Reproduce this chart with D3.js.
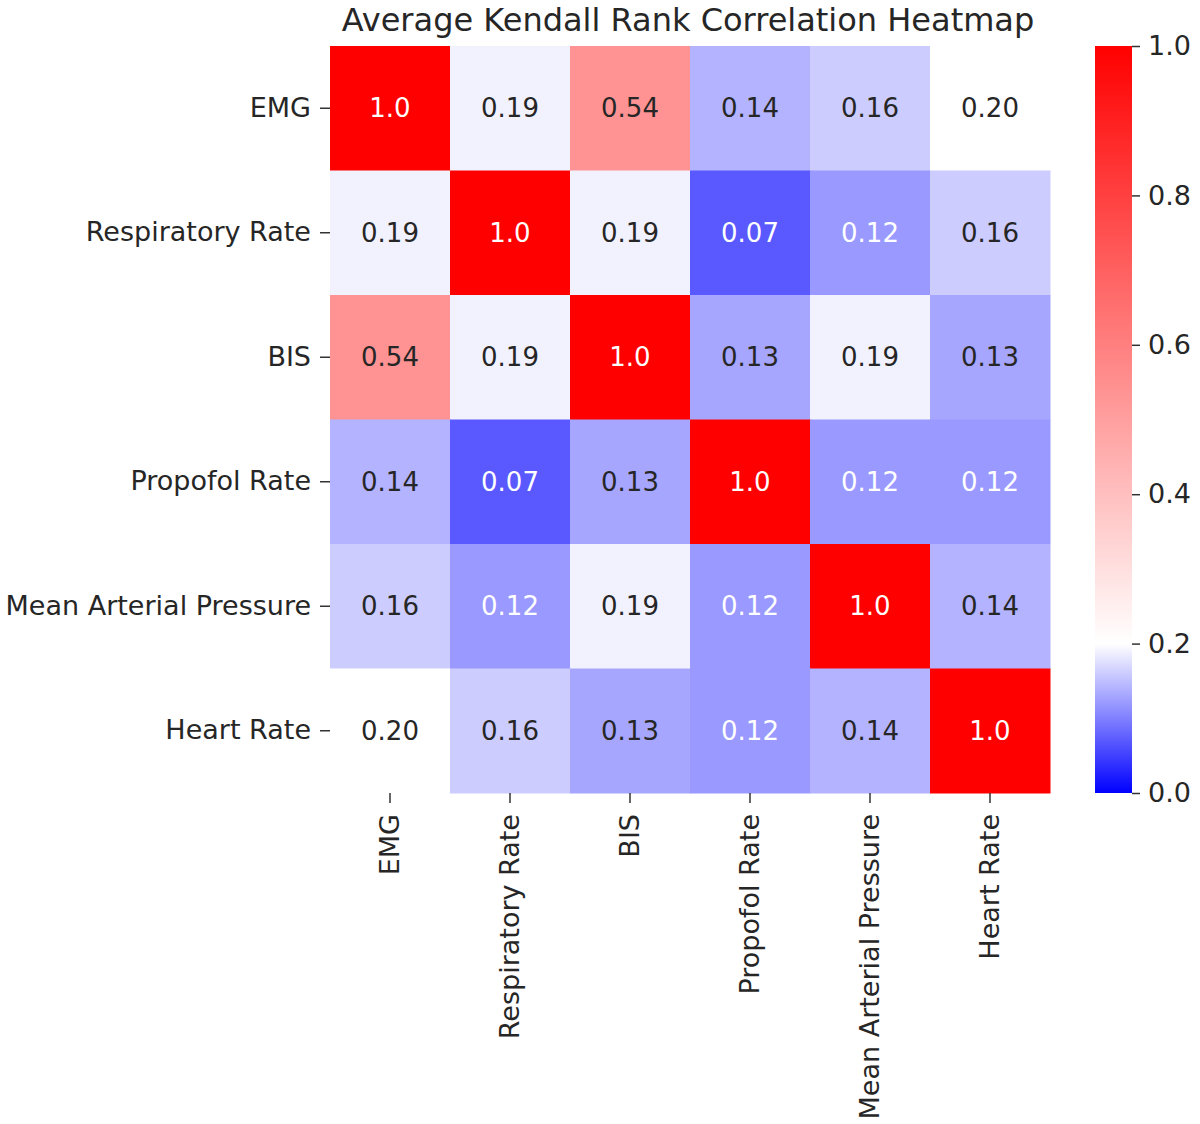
<!DOCTYPE html>
<html>
<head>
<meta charset="utf-8">
<script src="https://cdn.jsdelivr.net/npm/d3@7"></script>
<style>
  body { margin: 0; background: #fff; }
  text { font-family: "DejaVu Sans", sans-serif; }
</style>
</head>
<body>
<div id="chart"></div>
<script>
// Chart data
let title = "Average Kendall Rank Correlation Heatmap";
let variables = ["EMG", "Respiratory Rate", "BIS", "Propofol Rate", "Mean Arterial Pressure", "Heart Rate"];
let rowEMG = [1.0, 0.19, 0.54, 0.14, 0.16, 0.20];
let rowResp = [0.19, 1.0, 0.19, 0.07, 0.12, 0.16];
let rowBIS = [0.54, 0.19, 1.0, 0.13, 0.19, 0.13];
let rowPropofol = [0.14, 0.07, 0.13, 1.0, 0.12, 0.12];
let rowMAP = [0.16, 0.12, 0.19, 0.12, 1.0, 0.14];
let rowHR = [0.20, 0.16, 0.13, 0.12, 0.14, 1.0];
let labelsText = [["1.0", "0.19", "0.54", "0.14", "0.16", "0.20"],
                  ["0.19", "1.0", "0.19", "0.07", "0.12", "0.16"],
                  ["0.54", "0.19", "1.0", "0.13", "0.19", "0.13"],
                  ["0.14", "0.07", "0.13", "1.0", "0.12", "0.12"],
                  ["0.16", "0.12", "0.19", "0.12", "1.0", "0.14"],
                  ["0.20", "0.16", "0.13", "0.12", "0.14", "1.0"]];
let colorbarTicks = [0.0, 0.2, 0.4, 0.6, 0.8, 1.0];

let matrix = [rowEMG, rowResp, rowBIS, rowPropofol, rowMAP, rowHR];

// Define SVG dimensions
let svgWidth = 1200;
let svgHeight = 1124;
let heat = { left: 330, top: 46, width: 720, height: 747 };
let bar = { left: 1095, width: 37 };

let svg = d3.select("#chart")
            .append("svg")
            .attr("width", svgWidth)
            .attr("height", svgHeight);

// scales
let xScale = d3.scaleBand().domain(variables).range([heat.left, heat.left + heat.width]);
let yScale = d3.scaleBand().domain(variables).range([heat.top, heat.top + heat.height]);

// bwr colormap with a two-slope norm centred on 0.2
let colorScale = d3.scaleLinear()
    .domain([0, 0.2, 1])
    .range(["#0000ff", "#ffffff", "#ff0000"])
    .clamp(true);

function luminance(c) {
    let rgb = d3.rgb(c);
    let lin = [rgb.r, rgb.g, rgb.b].map(v => {
        v = v / 255;
        return v <= 0.03928 ? v / 12.92 : Math.pow((v + 0.055) / 1.055, 2.4);
    });
    return 0.2126 * lin[0] + 0.7152 * lin[1] + 0.0722 * lin[2];
}

// cells
let cells = [];
matrix.forEach((row, i) => row.forEach((v, j) => {
    cells.push({ row: variables[i], col: variables[j], value: v, label: labelsText[i][j] });
}));

svg.append("g").selectAll("rect")
    .data(cells)
    .enter()
    .append("rect")
    .attr("x", d => xScale(d.col))
    .attr("y", d => yScale(d.row))
    .attr("width", xScale.bandwidth() + 0.5)
    .attr("height", yScale.bandwidth() + 0.5)
    .attr("fill", d => colorScale(d.value));

svg.append("g").selectAll("text")
    .data(cells)
    .enter()
    .append("text")
    .attr("x", d => xScale(d.col) + xScale.bandwidth() / 2)
    .attr("y", d => yScale(d.row) + yScale.bandwidth() / 2)
    .attr("text-anchor", "middle")
    .attr("dominant-baseline", "central")
    .style("font-size", "26px")
    .attr("fill", d => luminance(colorScale(d.value)) > 0.408 ? "#262626" : "#ffffff")
    .text(d => d.label);

// axes
let leftAxis = d3.axisLeft(yScale).tickSize(10).tickPadding(9);
let yAxisG = svg.append("g")
    .attr("transform", `translate(${heat.left}, 0)`)
    .call(leftAxis);
yAxisG.select(".domain").remove();
yAxisG.selectAll("text").style("font-size", "27px").attr("fill", "#262626");
yAxisG.selectAll("line").attr("stroke", "#333").attr("stroke-width", 1.5);

let bottomAxis = d3.axisBottom(xScale).tickSize(10).tickPadding(8);
let xAxisG = svg.append("g")
    .attr("transform", `translate(0, ${heat.top + heat.height})`)
    .call(bottomAxis);
xAxisG.select(".domain").remove();
xAxisG.selectAll("line").attr("stroke", "#333").attr("stroke-width", 1.5);
xAxisG.selectAll("text")
    .style("font-size", "27px")
    .attr("fill", "#262626")
    .attr("transform", "rotate(-90)")
    .attr("text-anchor", "end")
    .attr("dy", "0.35em")
    .attr("x", -21)
    .attr("y", 0);

// title
svg.append("text")
    .attr("x", heat.left + heat.width / 2 - 2)
    .attr("y", 31)
    .attr("text-anchor", "middle")
    .style("font-size", "32px")
    .attr("fill", "#262626")
    .text(title);

// colorbar
let barScale = d3.scaleLinear().domain([0, 1]).range([heat.top + heat.height, heat.top]);
let defs = svg.append("defs");
let grad = defs.append("linearGradient")
    .attr("id", "cbar")
    .attr("x1", "0").attr("y1", "1")
    .attr("x2", "0").attr("y2", "0");
d3.range(0, 1.0001, 0.05).forEach(t => {
    grad.append("stop")
        .attr("offset", t)
        .attr("stop-color", colorScale(t));
});
svg.append("rect")
    .attr("x", bar.left)
    .attr("y", barScale(1))
    .attr("width", bar.width)
    .attr("height", barScale(0) - barScale(1))
    .attr("fill", "url(#cbar)");

let barAxis = d3.axisRight(barScale).tickValues(colorbarTicks).tickFormat(d3.format(".1f")).tickSize(8).tickPadding(8);
let barAxisG = svg.append("g")
    .attr("transform", `translate(${bar.left + bar.width}, 0)`)
    .call(barAxis);
barAxisG.select(".domain").remove();
barAxisG.selectAll("line").attr("stroke", "#333").attr("stroke-width", 1.5);
barAxisG.selectAll("text").style("font-size", "27px").attr("fill", "#262626");
</script>
</body>
</html>
